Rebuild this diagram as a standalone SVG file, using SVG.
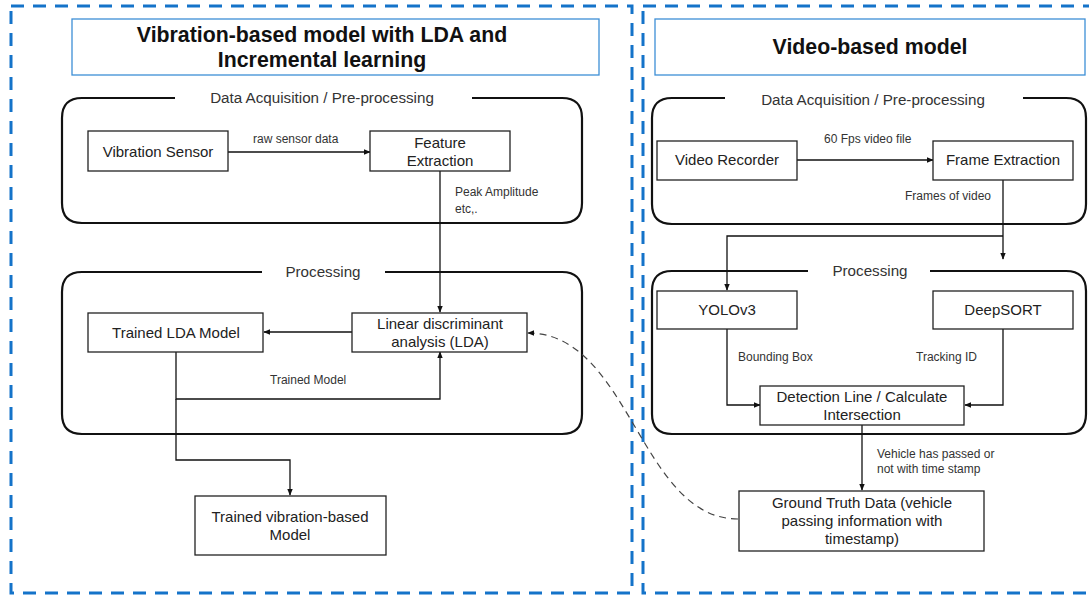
<svg xmlns="http://www.w3.org/2000/svg" width="1089" height="595" viewBox="0 0 1089 595">
<defs>
<marker id="ah" viewBox="0 0 10 10" refX="9" refY="5" markerWidth="7" markerHeight="7" markerUnits="userSpaceOnUse" orient="auto"><path d="M0,1 L10,5 L0,9 z" fill="#111"/></marker>
<style>
.panel{fill:none;stroke:#1473c9;stroke-width:3;stroke-dasharray:13 9}
.title{fill:#fff;stroke:#3d8fd6;stroke-width:1.3}
.grp{fill:none;stroke:#111;stroke-width:2.2}
.box{fill:#fff;stroke:#222;stroke-width:1.3}
.line{fill:none;stroke:#111;stroke-width:1.3}
.dash{fill:none;stroke:#444;stroke-width:1.2;stroke-dasharray:7 5}
text{font-family:"Liberation Sans",Arial,sans-serif;fill:#222}
.t{font-size:21.3px;font-weight:bold;fill:#111;text-anchor:middle}
.g{font-size:15.2px;fill:#333;text-anchor:middle}
.n{font-size:15px;text-anchor:middle}
.s{font-size:12px;fill:#333}
</style>
</defs>
<rect width="1089" height="595" fill="#fff"/>
<g id="panels">
<rect class="panel" x="11" y="6" width="621" height="587"/>
<rect class="panel" x="643" y="6" width="456" height="587"/>
</g>
<g id="title-left"><rect class="title" x="72" y="19" width="527" height="56"/>
<text class="t" x="322" y="42">Vibration-based model with LDA and</text>
<text class="t" x="322" y="67">Incremental learning</text></g>
<g id="title-right"><rect class="title" x="655" y="19" width="430" height="56"/>
<text class="t" x="870" y="54">Video-based model</text></g>
<g id="group-left-acq">
<path class="grp" d="M175,98 H82 Q62,98 62,118 V203 Q62,223 82,223 H562 Q582,223 582,203 V118 Q582,98 562,98 H472"/>
<text class="g" x="322" y="103">Data Acquisition / Pre-processing</text></g>
<g id="group-left-proc">
<path class="grp" d="M262,272 H82 Q62,272 62,292 V414 Q62,434 82,434 H562 Q582,434 582,414 V292 Q582,272 562,272 H385"/>
<text class="g" x="323" y="277">Processing</text></g>
<g id="group-right-acq">
<path class="grp" d="M725,98 H672 Q652,98 652,118 V204 Q652,224 672,224 H1066 Q1086,224 1086,204 V118 Q1086,98 1066,98 H1023"/>
<text class="g" x="873" y="105">Data Acquisition / Pre-processing</text></g>
<g id="group-right-proc">
<path class="grp" d="M808,271 H672 Q652,271 652,291 V414 Q652,434 672,434 H1066 Q1086,434 1086,414 V291 Q1086,271 1066,271 H930"/>
<text class="g" x="870" y="276">Processing</text></g>
<g id="connectors">
<path class="line" d="M228,152 H370" marker-end="url(#ah)"/>
<path class="line" d="M440,171 V312" marker-end="url(#ah)"/>
<path class="line" d="M352,332 H264" marker-end="url(#ah)"/>
<path class="line" d="M176,351 V399 H440 V352" marker-end="url(#ah)"/>
<path class="line" d="M176,399 V460 H290 V495" marker-end="url(#ah)"/>
<path class="line" d="M797,160 H933" marker-end="url(#ah)"/>
<path class="line" d="M1003,179 V259" marker-end="url(#ah)"/>
<path class="line" d="M1003,236 H727 V290" marker-end="url(#ah)"/>
<path class="line" d="M727,329 V405 H760" marker-end="url(#ah)"/>
<path class="line" d="M1003,329 V405 H965" marker-end="url(#ah)"/>
<path class="line" d="M862,425 V490" marker-end="url(#ah)"/>
<path class="dash" d="M738,519 C640,519 630,333 528,333" marker-end="url(#ah)"/>
<text class="s" x="253" y="143">raw sensor data</text>
<text class="s" x="455" y="196">Peak Amplitude</text>
<text class="s" x="455" y="213">etc,.</text>
<text class="s" x="270" y="384">Trained Model</text>
<text class="s" x="824" y="143">60 Fps video file</text>
<text class="s" x="905" y="200">Frames of video</text>
<text class="s" x="738" y="361">Bounding Box</text>
<text class="s" x="916" y="361">Tracking ID</text>
<text class="s" x="877" y="458">Vehicle has passed or</text>
<text class="s" x="877" y="473">not with time stamp</text>
</g>
<g id="vibration-sensor"><rect class="box" x="88" y="131" width="140" height="40"/><text class="n" x="158" y="157">Vibration Sensor</text></g>
<g id="feature-extraction"><rect class="box" x="370" y="131" width="140" height="40"/><text class="n" x="440" y="148">Feature</text><text class="n" x="440" y="166">Extraction</text></g>
<g id="trained-lda"><rect class="box" x="88" y="313" width="175" height="39"/><text class="n" x="176" y="338">Trained LDA Model</text></g>
<g id="lda"><rect class="box" x="352" y="313" width="175" height="39"/><text class="n" x="440" y="329">Linear discriminant</text><text class="n" x="440" y="347">analysis (LDA)</text></g>
<g id="trained-vibration"><rect class="box" x="195" y="496" width="191" height="59"/><text class="n" x="290" y="522">Trained vibration-based</text><text class="n" x="290" y="540">Model</text></g>
<g id="video-recorder"><rect class="box" x="657" y="141" width="140" height="39"/><text class="n" x="727" y="165">Video Recorder</text></g>
<g id="frame-extraction"><rect class="box" x="933" y="141" width="140" height="39"/><text class="n" x="1003" y="165">Frame Extraction</text></g>
<g id="yolov3"><rect class="box" x="657" y="291" width="140" height="38"/><text class="n" x="727" y="315">YOLOv3</text></g>
<g id="deepsort"><rect class="box" x="933" y="291" width="140" height="38"/><text class="n" x="1003" y="315">DeepSORT</text></g>
<g id="detection-line"><rect class="box" x="760" y="386" width="204" height="39"/><text class="n" x="862" y="402">Detection Line / Calculate</text><text class="n" x="862" y="420">Intersection</text></g>
<g id="ground-truth"><rect class="box" x="739" y="491" width="245" height="60"/><text class="n" x="862" y="508">Ground Truth Data (vehicle</text><text class="n" x="862" y="526">passing information with</text><text class="n" x="862" y="544">timestamp)</text></g>
</svg>
